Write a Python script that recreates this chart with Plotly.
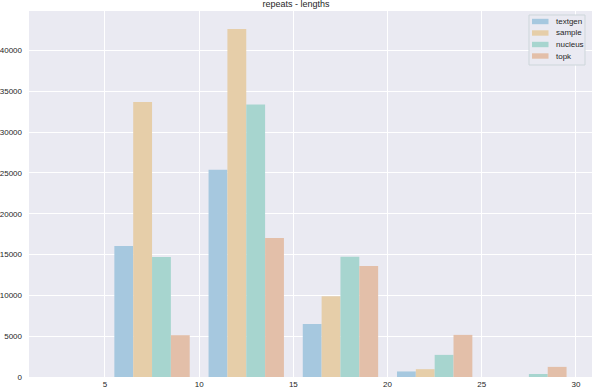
import plotly.graph_objects as go

# bin centres of the length histogram (bins of width 5)
bin_centers = [7.5, 12.5, 17.5, 22.5, 27.5]

textgen = [16050, 25400, 6500, 680, 0]
sample = [33700, 42630, 9900, 960, 0]
nucleus = [14700, 33400, 14750, 2710, 370]
topk = [5120, 17030, 13600, 5160, 1240]

series_names = ["textgen", "sample", "nucleus", "topk"]
colors = ["#a6c8df", "#e6cea9", "#a7d5cf", "#e3bfa9"]

W, H = 592, 388
L, R, T, B = 29, 0, 11, 11

fig = go.Figure()
for name, vals, c in zip(series_names, [textgen, sample, nucleus, topk], colors):
    fig.add_trace(go.Bar(
        x=bin_centers, y=vals, name=name,
        marker=dict(color=c, line=dict(width=0)),
    ))

# pixel -> paper helpers for the hand-drawn legend (matplotlib style box)
def px(x):
    return (x - L) / (W - L - R)

def py(y):
    return (H - B - y) / (H - T - B)

fig.add_shape(type="rect", xref="paper", yref="paper",
              x0=px(529), x1=px(585), y0=py(65), y1=py(15),
              fillcolor="#eaeaf2", line=dict(color="#cdd6da", width=1))
for i, (name, c) in enumerate(zip(series_names, colors)):
    yc = 21.5 + i * 11.5
    fig.add_shape(type="rect", xref="paper", yref="paper",
                  x0=px(532), x1=px(548.5), y0=py(yc + 2.7), y1=py(yc - 2.7),
                  fillcolor=c, line=dict(width=0))
    fig.add_annotation(x=px(554), y=py(yc), xref="paper", yref="paper",
                       text=name, showarrow=False, xanchor="left", yanchor="middle",
                       font=dict(size=8, color="#262626"))

fig.update_layout(
    width=W, height=H,
    margin=dict(l=L, r=R, t=T, b=B),
    paper_bgcolor="white",
    plot_bgcolor="#eaeaf2",
    font=dict(family="Liberation Sans, Arial, sans-serif", size=8, color="#262626"),
    title=dict(text="repeats - lengths", x=0.5, xanchor="center",
               y=1, yanchor="top", pad=dict(t=1, b=0),
               font=dict(size=9, color="#262626")),
    barmode="group",
    bargap=0.2,
    bargroupgap=0,
    showlegend=False,
)
fig.update_xaxes(
    range=[0.97, 30.85], tickvals=[5, 10, 15, 20, 25, 30],
    showgrid=True, gridcolor="white", gridwidth=1,
    zeroline=False, showline=False, ticks="", ticklabelstandoff=1,
)
fig.update_yaxes(
    range=[0, 44850], tickvals=list(range(0, 45000, 5000)),
    tickformat="d",
    showgrid=True, gridcolor="white", gridwidth=1,
    zeroline=False, showline=False, ticks="", ticklabelstandoff=6,
)

# the page is photographed at the window's top-left, so drop the body margin
fig.write_html("out.html", config={"displayModeBar": False},
               post_script="document.body.style.margin='0';")
